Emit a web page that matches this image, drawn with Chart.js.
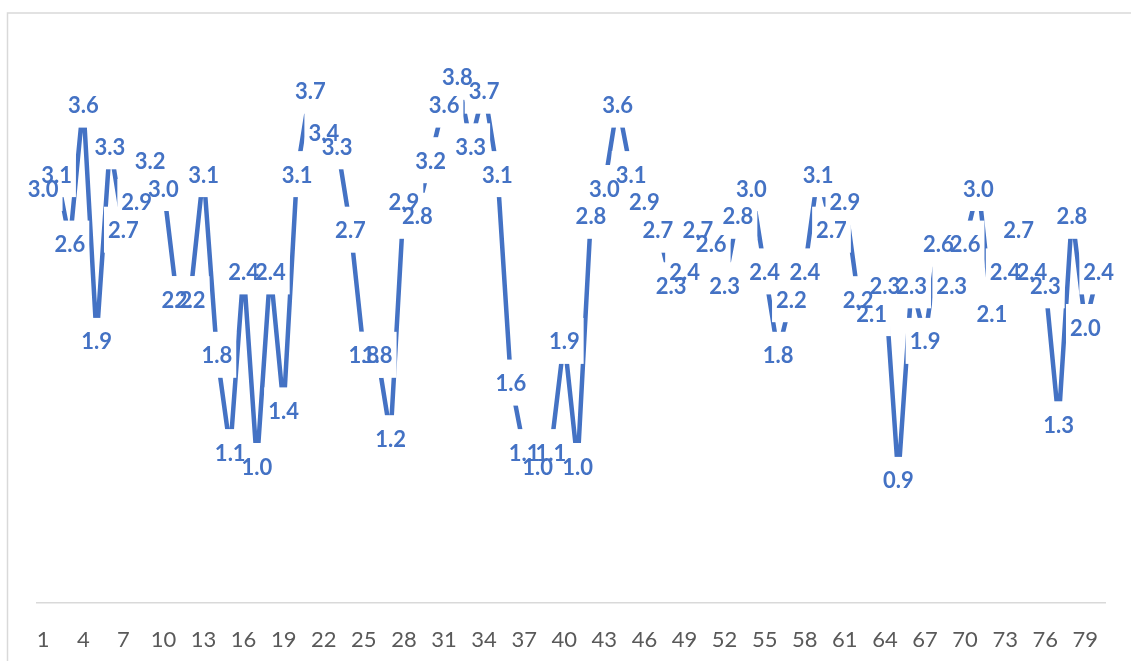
<!DOCTYPE html>
<html>
<head>
<meta charset="utf-8">
<script src="https://cdn.jsdelivr.net/npm/chart.js@4.4.1/dist/chart.umd.min.js"></script>
<style>
  html, body { margin: 0; padding: 0; background: #ffffff; overflow: hidden; }
  #wrap { position: relative; width: 1131px; height: 661px; }
  canvas { display: block; }
</style>
</head>
<body>
<div id="wrap"><canvas id="c" width="1131" height="661"></canvas></div>
<script>
const categories = [1,2,3,4,5,6,7,8,9,10,11,12,13,14,15,16,17,18,19,20,
  21,22,23,24,25,26,27,28,29,30,31,32,33,34,35,36,37,38,39,40,
  41,42,43,44,45,46,47,48,49,50,51,52,53,54,55,56,57,58,59,60,
  61,62,63,64,65,66,67,68,69,70,71,72,73,74,75,76,77,78,79,80];

const seriesValues = [3.0,3.1,2.6,3.6,1.9,3.3,2.7,2.9,3.2,3.0,
  2.2,2.2,3.1,1.8,1.1,2.4,1.0,2.4,1.4,3.1,
  3.7,3.4,3.3,2.7,1.8,1.8,1.2,2.9,2.8,3.2,
  3.6,3.8,3.3,3.7,3.1,1.6,1.1,1.0,1.1,1.9,
  1.0,2.8,3.0,3.6,3.1,2.9,2.7,2.3,2.4,2.7,
  2.6,2.3,2.8,3.0,2.4,1.8,2.2,2.4,3.1,2.7,
  2.9,2.2,2.1,2.3,0.9,2.3,1.9,2.6,2.3,2.6,
  3.0,2.1,2.4,2.7,2.4,2.3,1.3,2.8,2.0,2.4];

const tickEvery = 3;
const yMin = 0;
const yMax = 4;

const LINE_COLOR = '#4472C4';
const LABEL_FONT = 'bold 22px Lato, "Open Sans", "DejaVu Sans", sans-serif';

const framePlugin = {
  id: 'frame',
  beforeDraw(chart) {
    const ctx = chart.ctx;
    ctx.save();
    ctx.fillStyle = '#ffffff';
    ctx.fillRect(0, 0, chart.width, chart.height);
    ctx.strokeStyle = '#d9d9d9';
    ctx.lineWidth = 1.5;
    ctx.strokeRect(7.5, 13, 1200, 700);
    ctx.restore();
  }
};

const labelPlugin = {
  id: 'pointLabels',
  afterDatasetsDraw(chart) {
    const ctx = chart.ctx;
    const meta = chart.getDatasetMeta(0);
    const data = chart.data.datasets[0].data;
    ctx.save();
    ctx.font = LABEL_FONT;
    const items = meta.data.map((pt, i) => {
      const txt = Number(data[i]).toFixed(1);
      const w = ctx.measureText(txt).width;
      return { x: pt.x, y: pt.y, txt, w };
    });
    ctx.fillStyle = '#ffffff';
    items.forEach(it => {
      ctx.fillRect(it.x - it.w / 2 - 4, it.y - 21, it.w + 8, 46);
    });
    ctx.fillStyle = LINE_COLOR;
    ctx.textAlign = 'center';
    ctx.textBaseline = 'middle';
    items.forEach(it => {
      ctx.fillText(it.txt, it.x, it.y + 3.5);
    });
    ctx.restore();
  }
};

new Chart(document.getElementById('c'), {
  type: 'line',
  data: {
    labels: categories,
    datasets: [{
      data: seriesValues,
      borderColor: LINE_COLOR,
      borderWidth: 4.5,
      pointRadius: 0,
      pointHoverRadius: 0,
      tension: 0,
      fill: false,
      clip: false
    }]
  },
  options: {
    responsive: false,
    animation: false,
    events: [],
    layout: { padding: { left: 36.5, right: 25.6, top: 47, bottom: 0 } },
    plugins: {
      legend: { display: false },
      tooltip: { enabled: false },
      title: { display: false }
    },
    scales: {
      x: {
        type: 'category',
        offset: true,
        grid: { display: false, drawTicks: false },
        border: { display: true, color: '#d9d9d9', width: 1.5 },
        afterFit(scale) { scale.height = 58; },
        ticks: {
          autoSkip: false,
          maxRotation: 0,
          minRotation: 0,
          padding: 24,
          color: '#595959',
          font: { family: 'Lato, "Open Sans", "DejaVu Sans", sans-serif', size: 22 },
          callback(value, index) {
            return index % tickEvery === 0 ? String(categories[index]) : '';
          }
        }
      },
      y: {
        display: false,
        min: yMin,
        max: yMax
      }
    }
  },
  plugins: [framePlugin, labelPlugin]
});
</script>
</body>
</html>
